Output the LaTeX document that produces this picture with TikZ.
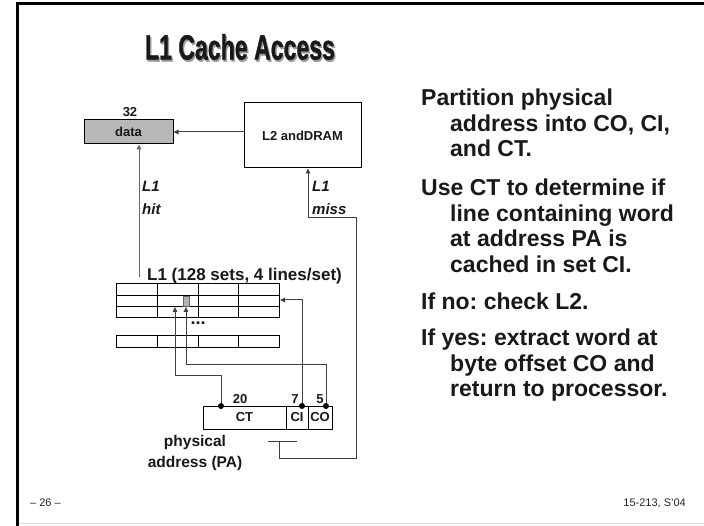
\documentclass[tikz,border=0pt]{standalone}
\usepackage{fontspec}
\setmainfont{Liberation Sans}
\newfontfamily\titlefont[FakeBold=1.2]{Liberation Sans Bold}
\usetikzlibrary{arrows.meta}
\newcommand{\fsz}[2]{\fontsize{#1}{#2}\selectfont}
\newcommand{\shadowtext}[1]{\makebox[0pt][l]{\hspace{2pt}\raisebox{-2pt}{\color{black!40}#1}}#1}
\frenchspacing
\begin{document}
\begin{tikzpicture}[x=1pt,y=-1pt,
  conn/.style={draw=black!75, line width=1pt},
  arr/.style={conn, -{Triangle[length=5pt,width=4.5pt]}},
  box/.style={draw=black, line width=1pt, inner sep=0pt, text=black!90,
    font=\fsz{13}{15}\bfseries},
  lbl/.style={inner sep=0pt, text=black!90, font=\fsz{13}{15}\bfseries},
  itlbl/.style={inner sep=0pt, text=black!90, font=\fsz{15}{17}\bfseries\itshape, anchor=west},
  gridline/.style={draw=black, line width=1pt},
  pdot/.style={circle, fill=black, inner sep=0pt, minimum size=6pt},
  bodytext/.style={inner sep=0pt, anchor=north west, align=left, text=black!90,
    font=\fsz{23}{25.5}\bfseries}]
\useasboundingbox (0,0) rectangle (704,526);
\fill[white] (0,0) rectangle (704,526);

% slide frame
\draw[black!12, line width=1pt] (18,523) -- (704,523);
\draw[black, line width=3pt] (17.5,526) -- (17.5,4) -- (704,4);

% title with drop shadow
\node[inner sep=0pt, text=black!90] (title) at (240,48)
  {\scalebox{0.66}[1]{\titlefont\fsz{35}{37}\shadowtext{L1 Cache Access}}};

% data word and the next level of the hierarchy
\node[box, fill=black!28, minimum width=89pt, minimum height=24pt] (data) at (128.5,132) {data};
\node[lbl] (width) at (130,112) {32};
\node[box, minimum width=117pt, minimum height=65pt] (l2) at (302.5,135.5) {L2 andDRAM};
\draw[arr] (data.east -| l2.west) -- (data.east);

% L1 cache: 128 sets of 4 lines
\node[lbl, anchor=west, font=\fsz{17}{19}\bfseries] (cachelbl) at (147,276) {L1 (128 sets, 4 lines/set)};
\draw[gridline] (116,284) rectangle (279,318);
\draw[gridline] (116,295.5) -- (279,295.5) (116,307) -- (279,307);
\foreach \cx in {157,198,238} \draw[gridline] (\cx,284) -- (\cx,318);
\fill[black!30] (183,296) rectangle (189,306.5);
\draw[black!60, line width=0.6pt] (183,296) rectangle (189,306.5);
\node[lbl, font=\fsz{18}{18}\bfseries] (dots) at (198,323) {...};
\draw[gridline] (116,336) rectangle (279,348);
\foreach \cx in {157,198,238} \draw[gridline] (\cx,336) -- (\cx,348);

% hit path
\coordinate (hitfoot) at (139,277);
\draw[arr, draw=black!60] (hitfoot) -- (hitfoot |- data.south);
\node[itlbl] (hitA) at (142,186) {L1};
\node[itlbl] (hitB) at (142,209) {hit};

% physical address fields
\node[box, minimum width=83pt, minimum height=23pt] (ct) at (244.5,417.5) {CT};
\node[box, minimum width=22pt, minimum height=23pt] (ci) at (297,417.5) {CI};
\node[box, minimum width=24pt, minimum height=23pt] (co) at (320,417.5) {CO};
\node[lbl] (ctbits) at (240,399) {20};
\node[lbl] (cibits) at (295,399) {7};
\node[lbl] (cobits) at (320,399) {5};
\node[lbl, align=center, font=\fsz{15.5}{21}\bfseries] (pa) at (195,453) {physical\\address (PA)};

\node[pdot] (ctdot) at (221,406) {};
\node[pdot] (cidot) at (302,406) {};
\node[pdot] (codot) at (326,406) {};

\coordinate (tagin) at (175,307);
\coordinate (offin) at (186,307);
\coordinate (setin) at (280,300);
\draw[arr] (ctdot) -- ++(0,-30) -| (tagin);
\draw[arr] (codot) -- ++(0,-41) -| (offin);
\draw[arr] (cidot) |- (setin);

% miss path back to L2
\coordinate (brkL) at (268,441);
\coordinate (brkR) at (297,441);
\coordinate (missfoot) at (279,441);
\coordinate (missrt) at (356,458);
\coordinate (missturn) at (308,218);
\draw[conn] (brkL) -- (brkR);
\draw[arr] (missfoot) |- (missrt) |- (missturn) -- (missturn |- l2.south);
\node[itlbl] (missA) at (312,186) {L1};
\node[itlbl] (missB) at (312,209) {miss};

% explanatory text
\node[bodytext] (p1) at (421,89) {Partition physical\\\hspace*{29pt}address into CO, CI,\\\hspace*{29pt}and CT.};
\node[bodytext] (p2) at (421,179) {Use CT to determine if\\\hspace*{29pt}line containing word\\\hspace*{29pt}at address PA is\\\hspace*{29pt}cached in set CI.};
\node[bodytext] (p3) at (421,293) {If no: check L2.};
\node[bodytext] (p4) at (421,329) {If yes: extract word at\\\hspace*{29pt}byte offset CO and\\\hspace*{29pt}return to processor.};

% footer
\node[inner sep=0pt, anchor=west, font=\fsz{11}{13}, text=black!85] (pg) at (30,503) {-- 26 --};
\node[inner sep=0pt, anchor=east, font=\fsz{11}{13}, text=black!85] (course) at (686,503) {15-213, S'04};
\end{tikzpicture}
\end{document}
